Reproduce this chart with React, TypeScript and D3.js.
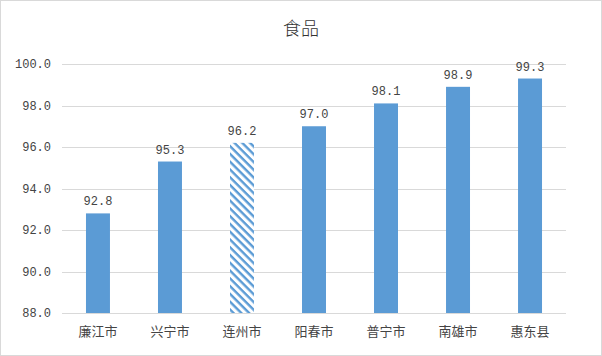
import React from "react";
import * as d3 from "d3";

const categories = ["廉江市", "兴宁市", "连州市", "阳春市", "普宁市", "南雄市", "惠东县"];
const values = [92.8, 95.3, 96.2, 97.0, 98.1, 98.9, 99.3];
const hatched = [false, false, true, false, false, false, false];
const yTicks = [88, 90, 92, 94, 96, 98, 100];
const title = "食品";

export default function App() {
  const W = 602, H = 356;
  const left = 62, right = 566, top = 64, bottom = 313;
  const x = d3.scaleBand<string>().domain(categories).range([left, right]).paddingInner(0.667).paddingOuter(0.333);
  const y = d3.scaleLinear().domain([88, 100]).range([bottom, top]);
  const blue = "#5B9BD5";
  const font = "'Noto Sans CJK SC', sans-serif";
  const mono = "'Liberation Mono', 'DejaVu Sans Mono', monospace";
  return (
    <svg width={W} height={H} style={{ position: "absolute", left: 0, top: 0 }}>
      <defs>
        <pattern id="hatch" patternUnits="userSpaceOnUse" width="5.5" height="5.5" patternTransform="rotate(45)">
          <rect width="5.5" height="5.5" fill="white" />
          <rect x="0" y="0" width="5.5" height="2.4" fill={blue} />
        </pattern>
      </defs>
      <rect x={0.5} y={0.5} width={W - 1} height={H - 1} fill="white" stroke="#D9D9D9" />
      <text x={W / 2} y={35} textAnchor="middle" fontFamily={font} fontWeight={300} fontSize={18} fill="#333">{title}</text>
      {yTicks.map((t) => (
        <g key={t}>
          {t !== 88 && <line x1={left} x2={right} y1={Math.round(y(t)) + 0.5} y2={Math.round(y(t)) + 0.5} stroke="#D9D9D9" />}
          <text x={51} y={y(t) + 4} textAnchor="end" fontFamily={mono} fontSize={12} fill="#444">{t.toFixed(1)}</text>
        </g>
      ))}
      {categories.map((c, i) => {
        const bx = x(c)!;
        const bw = x.bandwidth();
        return (
          <g key={c}>
            <rect x={bx} y={y(values[i])} width={bw} height={bottom - y(values[i])} fill={hatched[i] ? "url(#hatch)" : blue} />
            <text x={bx + bw / 2} y={y(values[i]) - 8} textAnchor="middle" fontFamily={mono} fontSize={12} fill="#444">{values[i].toFixed(1)}</text>
            <text x={bx + bw / 2} y={336} textAnchor="middle" fontFamily={font} fontSize={13} fill="#444">{c}</text>
          </g>
        );
      })}
      <line x1={left} x2={right} y1={bottom + 0.5} y2={bottom + 0.5} stroke="#D9D9D9" />
    </svg>
  );
}
